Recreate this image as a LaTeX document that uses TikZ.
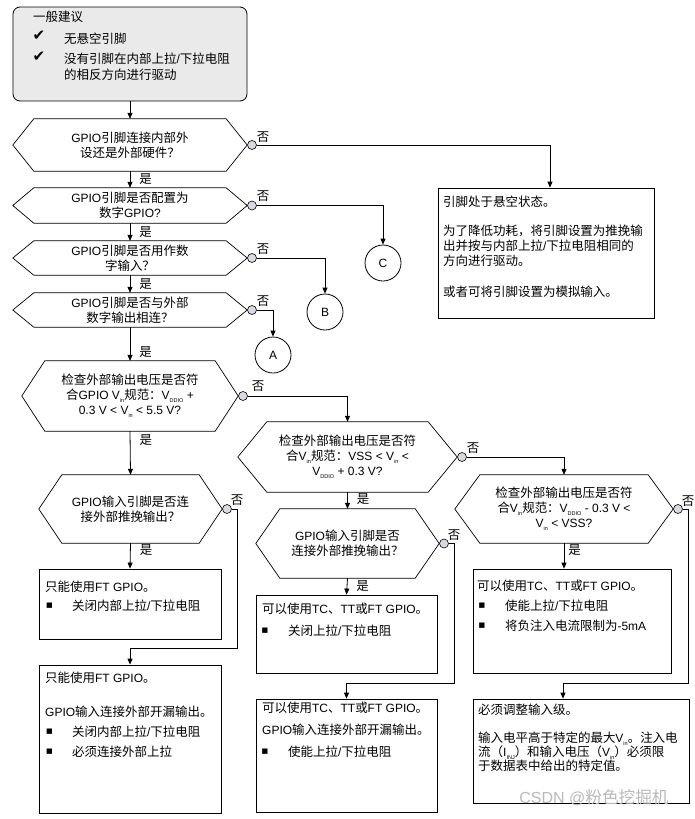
\documentclass[tikz,border=0pt]{standalone}
\usepackage{fontspec}
\setmainfont{Liberation Sans}
\newfontfamily\cjkfont[Scale=1.04]{Noto Sans CJK SC}
\newfontfamily\latinfont{Liberation Sans}
\newfontfamily\dvsym{DejaVu Sans}
\usetikzlibrary{arrows.meta}
% automatic switch to the CJK font for CJK characters
\XeTeXinterchartokenstate=1
\chardef\cjkcls=7
\newcount\tmpc
\tmpc="3000 \loop\ifnum\tmpc<"A000 \XeTeXcharclass\tmpc=\cjkcls \advance\tmpc 1 \repeat
\tmpc="FF00 \loop\ifnum\tmpc<"FFF0 \XeTeXcharclass\tmpc=\cjkcls \advance\tmpc 1 \repeat
\XeTeXinterchartoks 0 \cjkcls = {\cjkfont}
\XeTeXinterchartoks 4095 \cjkcls = {\cjkfont}
\XeTeXinterchartoks \cjkcls 0 = {\latinfont}
\XeTeXinterchartoks \cjkcls 4095 = {\latinfont}
\definecolor{dotfill}{RGB}{216,218,226}
\definecolor{genfill}{RGB}{234,234,234}
\newcommand\fsz{\fontsize{12}{15}\selectfont}
\newcommand\sbs[1]{\raisebox{-0.45ex}{\fontsize{5.5}{6}\selectfont #1}}
\tikzset{
  ln/.style={line width=0.8pt},
  arr/.style={ln, -{Triangle[length=6pt,width=5pt]}},
  hexline/.style={line width=0.7pt},
  hexbox/.style={inner sep=0pt, align=center, font=\fsz},
  dot/.style={circle, draw, line width=0.6pt, fill=dotfill, minimum size=9pt, inner sep=0pt},
  conn/.style={circle, draw, line width=0.8pt, minimum size=36pt, inner sep=0pt, font=\fsz},
  box/.style={draw, line width=0.8pt, inner sep=0pt},
  txt/.style={inner sep=0pt, anchor=base west, font=\fsz},
  lbl/.style={inner sep=0pt, font=\fsz},
  bulnode/.style={inner sep=0pt, font=\dvsym\fontsize{7}{7}\selectfont},
  chk/.style={inner sep=0pt, font=\dvsym\fontsize{15}{15}\selectfont},
}
\newcommand\hexn[7]{%
  \node[hexbox, minimum width=#4pt, minimum height=#5pt] (#1) at (#2,#3) {#7};
  \draw[hexline] (#1.west) -- ([xshift=#6pt]#1.north west) -- ([xshift=-#6pt]#1.north east)
     -- (#1.east) -- ([xshift=-#6pt]#1.south east) -- ([xshift=#6pt]#1.south west) -- cycle;
  \node[dot, anchor=west] (#1d) at (#1.east) {};
}
\newcommand\tln[4]{\node[txt] (#1) at (#2,#3+4.4) {#4};}
\newcommand\bul[3]{\node[bulnode] (#1) at (#2,#3) {■};}
\begin{document}
\begin{tikzpicture}[x=1pt,y=-1pt]
\useasboundingbox (0,0) rectangle (695,819);

% general advice
\node[box, rounded corners=7pt, fill=genfill, minimum width=234pt, minimum height=94pt] (gen) at (130,54) {};
\tln{g0}{33}{17}{一般建议}
\node[chk] (k1) at (39,36) {✔};
\node[chk] (k2) at (39,57) {✔};
\tln{g1}{64}{39}{无悬空引脚}
\tln{g2}{64}{59}{没有引脚在内部上拉/下拉电阻}
\tln{g3}{64}{75}{的相反方向进行驱动}

% decisions
\hexn{h1}{130}{145}{234}{52}{21}{GPIO引脚连接内部外\\设还是外部硬件？}
\hexn{h2}{130}{205.5}{234}{35}{21}{GPIO引脚是否配置为\\数字GPIO?}
\hexn{h3}{130}{258}{234}{34}{21}{GPIO引脚是否用作数\\字输入？}
\hexn{h4}{130}{310}{234}{34}{21}{GPIO引脚是否与外部\\数字输出相连？}
\hexn{h5}{130}{396}{216}{70}{23}{检查外部输出电压是否符\\合GPIO V\sbs{in}规范：V\sbs{DDIO} +\\0.3 V < V\sbs{in} < 5.5 V?}
\hexn{h6}{130.5}{509}{183}{68}{23}{GPIO输入引脚是否连\\接外部推挽输出？}
\hexn{h7}{347.5}{457}{219}{70}{29}{检查外部输出电压是否符\\合V\sbs{in}规范：VSS < V\sbs{in} <\\V\sbs{DDIO} + 0.3 V?}
\hexn{h8}{347.5}{543.5}{183}{69}{24}{GPIO输入引脚是否\\连接外部推挽输出？}
\hexn{h9}{564}{509}{218}{68}{25}{检查外部输出电压是否符\\合V\sbs{in}规范：V\sbs{DDIO} - 0.3 V <\\V\sbs{in} < VSS?}

% connectors A B C
\node[conn] (cC) at (383,263) {C};
\node[conn] (cB) at (325,312) {B};
\node[conn] (cA) at (273,355) {A};

% floating box
\node[box, minimum width=216pt, minimum height=130pt] (flt) at (546,253) {};
\tln{f1}{443}{202}{引脚处于悬空状态。}
\tln{f2}{443}{231}{为了降低功耗，将引脚设置为推挽输}
\tln{f3}{443}{246}{出并按与内部上拉/下拉电阻相同的}
\tln{f4}{443}{261}{方向进行驱动。}
\tln{f5}{443}{292}{或者可将引脚设置为模拟输入。}

% result boxes
\node[box, minimum width=182pt, minimum height=70pt] (L1) at (130,604) {};
\tln{l1a}{45}{587}{只能使用FT GPIO。}
\bul{l1p}{49.5}{606}\tln{l1b}{72}{606}{关闭内部上拉/下拉电阻}

\node[box, minimum width=182pt, minimum height=148pt] (L2) at (130,739) {};
\tln{l2a}{45}{678}{只能使用FT GPIO。}
\tln{l2b}{45}{712}{GPIO输入连接外部开漏输出。}
\bul{l2p}{49.5}{732}\tln{l2c}{72}{732}{关闭内部上拉/下拉电阻}
\bul{l2q}{49.5}{752}\tln{l2d}{72}{752}{必须连接外部上拉}

\node[box, minimum width=181pt, minimum height=78pt] (M1) at (346.5,634) {};
\tln{m1a}{262}{609}{可以使用TC、TT或FT GPIO。}
\bul{m1p}{265}{631}\tln{m1b}{288}{631}{关闭上拉/下拉电阻}

\node[box, minimum width=181pt, minimum height=113pt] (M2) at (346.5,755.5) {};
\tln{m2a}{262}{708}{可以使用TC、TT或FT GPIO。}
\tln{m2b}{262}{730}{GPIO输入连接外部开漏输出。}
\bul{m2p}{265}{752}\tln{m2c}{288}{752}{使能上拉/下拉电阻}

\node[box, minimum width=198pt, minimum height=104pt] (R1) at (572,621) {};
\tln{r1a}{477}{586}{可以使用TC、TT或FT GPIO。}
\bul{r1p}{482}{606}\tln{r1b}{505}{606}{使能上拉/下拉电阻}
\bul{r1q}{482}{626}\tln{r1c}{505}{626}{将负注入电流限制为-5mA}

\node[box, minimum width=216pt, minimum height=104pt] (R2) at (581,751) {};
\tln{r2a}{478}{710}{必须调整输入级。}
\tln{r2b}{478}{738}{输入电平高于特定的最大V\sbs{in}。注入电}
\tln{r2c}{478}{752}{流（I\sbs{INJ}）和输入电压（V\sbs{in}）必须限}
\tln{r2d}{478}{766}{于数据表中给出的特定值。}

% yes connectors
\draw[arr] (gen.south) -- (h1.north);
\draw[arr] (h1.south) -- node[lbl, right=9pt] (y1) {是} (h2.north);
\draw[arr] (h2.south) -- node[lbl, right=9pt] (y2) {是} (h3.north);
\draw[arr] (h3.south) -- node[lbl, right=9pt] (y3) {是} (h4.north);
\draw[arr] (h4.south) -- node[lbl, pos=0.75, right=9pt] (y4) {是} (h5.north);
\draw[arr] (h5.south) -- node[lbl, pos=0.2, right=9pt] (y5) {是} (h6.north);
\draw[arr] (h6.south) -- node[lbl, pos=0.27, right=9pt] (y6) {是} (L1.north);
\draw[arr] (h7.south) -- node[lbl, pos=0.4, right=9pt] (y7) {是} (h8.north);
\draw[arr] (h8.south) -- node[lbl, pos=0.5, right=9pt] (y8) {是} (M1.north);
\draw[arr] (h9.south) -- node[lbl, pos=0.27, right=4pt] (y9) {是} (h9.south |- R1.north);

% no connectors
\coordinate (j6) at (237,648);
\coordinate (j8) at (454,683);
\coordinate (j9) at (688,683);
\draw[arr] (h1d.east) -| ([xshift=4pt]flt.north);
\draw[arr] (h2d.east) -| (cC.north);
\draw[arr] (h3d.east) -| (cB.north);
\draw[arr] (h4d.east) -| (cA.north);
\draw[arr] (h5d.east) -| (h7.north);
\draw[arr] (h7d.east) -| (h9.north);
\draw[arr] (h6d.east) -| (j6) -| (L2.north);
\draw[arr] (h8d.east) -| (j8) -| (M2.north);
\draw[arr] (h9d.east) -| (j9) -| ([xshift=-18pt]R2.north);

\node[lbl] (n1) at ([xshift=11pt,yshift=8pt]h1d.center) {否};
\node[lbl] (n2) at ([xshift=11pt,yshift=9pt]h2d.center) {否};
\node[lbl] (n3) at ([xshift=11pt,yshift=9pt]h3d.center) {否};
\node[lbl] (n4) at ([xshift=11pt,yshift=9pt]h4d.center) {否};
\node[lbl] (n5) at ([xshift=15pt,yshift=10pt]h5d.center) {否};
\node[lbl] (n6) at ([xshift=10pt,yshift=9pt]h6d.center) {否};
\node[lbl] (n7) at ([xshift=11pt,yshift=9pt]h7d.center) {否};
\node[lbl] (n8) at ([xshift=10pt,yshift=8pt]h8d.center) {否};
\node[lbl] (n9) at ([xshift=10pt,yshift=8pt]h9d.center) {否};

% watermark
\node[inner sep=0pt, font=\fontsize{16}{16}\selectfont, text=gray!55] (wm) at (594,798) {CSDN @粉色挖掘机};
\end{tikzpicture}
\end{document}
